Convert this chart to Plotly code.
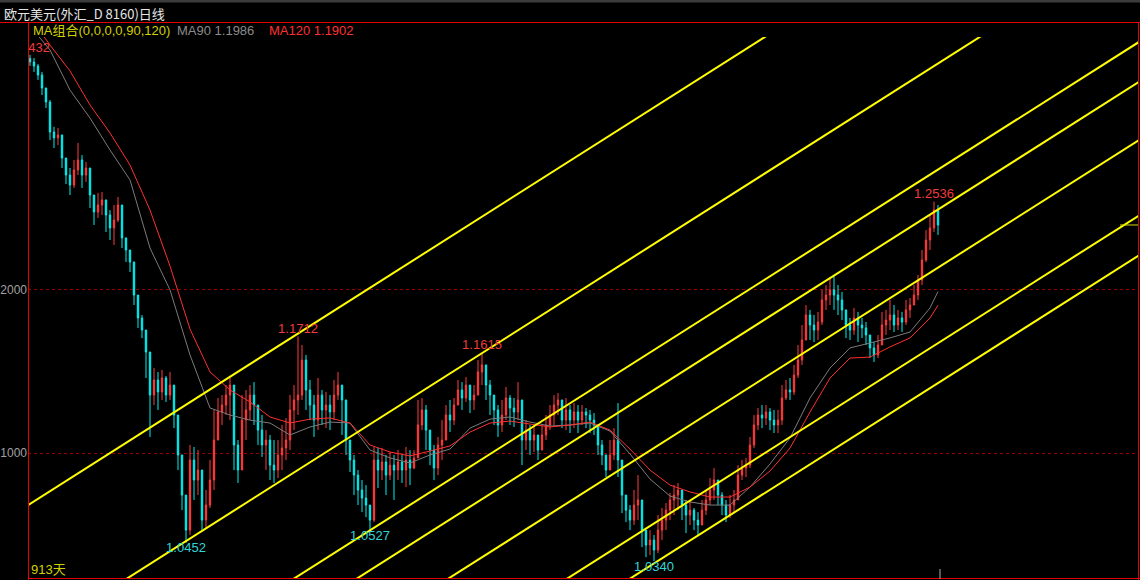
import plotly.graph_objects as go

# ---------------- data (EUR/USD daily) ----------------
first_open = 1.3410

closes = [
    1.3389, 1.3364, 1.3309, 1.3230, 1.3144, 1.2961, 1.2925, 1.2943, 1.2802, 1.2698,
    1.2637, 1.2729, 1.2790, 1.2698, 1.2741, 1.2576, 1.2472, 1.2515, 1.2546, 1.2454,
    1.2375, 1.2423, 1.2515, 1.2314, 1.2240, 1.2167, 1.1965, 1.1825, 1.1751, 1.1617,
    1.1354, 1.1446, 1.1373, 1.1458, 1.1354, 1.1415, 1.1232, 1.0988, 1.0743, 1.0529,
    1.0957, 1.0835, 1.0896, 1.0590, 1.0682, 1.0835, 1.1079, 1.1251, 1.1293, 1.1354,
    1.1415, 1.1049, 1.0896, 1.1201, 1.1263, 1.1354, 1.1293, 1.1140, 1.1049, 1.1079,
    1.0926, 1.0896, 1.0988, 1.1031, 1.1079, 1.1263, 1.1324, 1.1354, 1.1568, 1.1385,
    1.1293, 1.1201, 1.1354, 1.1263, 1.1293, 1.1251, 1.1354, 1.1415, 1.1324, 1.1079,
    1.0957, 1.0865, 1.0774, 1.0725, 1.0682, 1.0590, 1.0957, 1.0896, 1.0945, 1.0865,
    1.0926, 1.0896, 1.0945, 1.0896, 1.0957, 1.0908, 1.0970, 1.1171, 1.1263, 1.1140,
    1.1018, 1.0908, 1.1049, 1.1079, 1.1232, 1.1201, 1.1293, 1.1385, 1.1336, 1.1415,
    1.1324, 1.1354, 1.1495, 1.1538, 1.1415, 1.1354, 1.1263, 1.1171, 1.1232, 1.1336,
    1.1275, 1.1251, 1.1324, 1.1079, 1.1140, 1.1079, 1.1110, 1.1018, 1.1110, 1.1171,
    1.1232, 1.1293, 1.1324, 1.1201, 1.1263, 1.1201, 1.1251, 1.1201, 1.1251, 1.1232,
    1.1201, 1.1171, 1.1049, 1.0988, 1.0896, 1.0988, 1.1079, 1.0957, 1.0743, 1.0651,
    1.0590, 1.0682, 1.0713, 1.0529, 1.0438, 1.0468, 1.0407, 1.0529, 1.0590, 1.0651,
    1.0713, 1.0743, 1.0774, 1.0682, 1.0621, 1.0651, 1.0590, 1.0560, 1.0651, 1.0713,
    1.0774, 1.0835, 1.0743, 1.0682, 1.0621, 1.0682, 1.0713, 1.0865, 1.0908, 1.0926,
    1.1049, 1.1171, 1.1232, 1.1214, 1.1251, 1.1201, 1.1171, 1.1201, 1.1336, 1.1385,
    1.1373, 1.1476, 1.1568, 1.1690, 1.1843, 1.1782, 1.1751, 1.1800, 1.1935, 1.1965,
    1.1996, 1.1965, 1.1935, 1.1874, 1.1782, 1.1751, 1.1825, 1.1782, 1.1764, 1.1721,
    1.1642, 1.1599, 1.1660, 1.1782, 1.1812, 1.1843, 1.1782, 1.1825, 1.1800, 1.1874,
    1.1904, 1.1965, 1.2057, 1.2179, 1.2301, 1.2375, 1.2484, 1.2393,
]

highs = [
    1.3432, 1.3413, 1.3377, 1.3328, 1.3205, 1.3156, 1.2992, 1.2986, 1.2912, 1.2790,
    1.2741, 1.2790, 1.2894, 1.2820, 1.2778, 1.2668, 1.2558, 1.2589, 1.2595, 1.2546,
    1.2484, 1.2515, 1.2564, 1.2393, 1.2314, 1.2240, 1.2130, 1.1904, 1.1843, 1.1751,
    1.1568, 1.1520, 1.1495, 1.1507, 1.1470, 1.1495, 1.1354, 1.1201, 1.0957, 1.0743,
    1.1049, 1.1037, 1.1018, 1.0896, 1.0774, 1.0957, 1.1263, 1.1336, 1.1354, 1.1415,
    1.1458, 1.1263, 1.1079, 1.1354, 1.1385, 1.1415, 1.1433, 1.1293, 1.1232, 1.1140,
    1.1110, 1.1079, 1.1079, 1.1171, 1.1213, 1.1354, 1.1415, 1.1712, 1.1660, 1.1599,
    1.1446, 1.1354, 1.1458, 1.1385, 1.1373, 1.1354, 1.1446, 1.1495, 1.1415, 1.1263,
    1.1079, 1.0988, 1.0896, 1.0835, 1.0804, 1.0682, 1.1037, 1.1031, 1.1031, 1.0988,
    1.1006, 1.0988, 1.1018, 1.0988, 1.1037, 1.1018, 1.1018, 1.1324, 1.1336, 1.1293,
    1.1110, 1.1049, 1.1098, 1.1201, 1.1293, 1.1324, 1.1336, 1.1446, 1.1433, 1.1464,
    1.1385, 1.1415, 1.1568, 1.1615, 1.1507, 1.1446, 1.1354, 1.1293, 1.1324, 1.1403,
    1.1354, 1.1336, 1.1433, 1.1232, 1.1201, 1.1171, 1.1171, 1.1110, 1.1171, 1.1232,
    1.1293, 1.1354, 1.1366, 1.1293, 1.1336, 1.1293, 1.1305, 1.1293, 1.1293, 1.1275,
    1.1263, 1.1244, 1.1171, 1.1079, 1.0988, 1.1079, 1.1152, 1.1305, 1.0896, 1.0743,
    1.0682, 1.0774, 1.0865, 1.0682, 1.0529, 1.0529, 1.0499, 1.0621, 1.0664, 1.0694,
    1.0756, 1.0804, 1.0817, 1.0774, 1.0713, 1.0713, 1.0664, 1.0639, 1.0713, 1.0774,
    1.0847, 1.0908, 1.0835, 1.0761, 1.0713, 1.0743, 1.0774, 1.0926, 1.0957, 1.0970,
    1.1098, 1.1232, 1.1275, 1.1293, 1.1293, 1.1275, 1.1263, 1.1263, 1.1415, 1.1446,
    1.1458, 1.1538, 1.1660, 1.1782, 1.1904, 1.1874, 1.1843, 1.1862, 1.1996, 1.2026,
    1.2069, 1.2087, 1.2026, 1.1984, 1.1862, 1.1825, 1.1886, 1.1862, 1.1825, 1.1800,
    1.1690, 1.1678, 1.1721, 1.1862, 1.1874, 1.1935, 1.1904, 1.1874, 1.1862, 1.1935,
    1.1947, 1.2026, 1.2087, 1.2240, 1.2362, 1.2454, 1.2536, 1.2515,
]

lows = [
    1.3364, 1.3328, 1.3279, 1.3187, 1.3107, 1.2912, 1.2863, 1.2881, 1.2741, 1.2643,
    1.2576, 1.2619, 1.2698, 1.2619, 1.2656, 1.2497, 1.2393, 1.2436, 1.2454, 1.2350,
    1.2301, 1.2271, 1.2411, 1.2252, 1.2167, 1.2106, 1.1904, 1.1764, 1.1702, 1.1458,
    1.1098, 1.1293, 1.1263, 1.1324, 1.1312, 1.1324, 1.1152, 1.0896, 1.0651, 1.0452,
    1.0499, 1.0713, 1.0743, 1.0529, 1.0541, 1.0664, 1.0774, 1.1140, 1.1171, 1.1232,
    1.1201, 1.0896, 1.0817, 1.0896, 1.1079, 1.1201, 1.1171, 1.1049, 1.0976, 1.0896,
    1.0835, 1.0817, 1.0847, 1.0896, 1.0957, 1.1018, 1.1140, 1.1232, 1.1324, 1.1263,
    1.1201, 1.1098, 1.1140, 1.1171, 1.1152, 1.1140, 1.1201, 1.1324, 1.1110, 1.0988,
    1.0884, 1.0743, 1.0682, 1.0639, 1.0608, 1.0527, 1.0578, 1.0786, 1.0835, 1.0743,
    1.0835, 1.0713, 1.0835, 1.0817, 1.0792, 1.0804, 1.0902, 1.1049, 1.1140, 1.1018,
    1.0926, 1.0835, 1.0865, 1.0957, 1.1079, 1.1128, 1.1171, 1.1293, 1.1263, 1.1312,
    1.1244, 1.1263, 1.1354, 1.1415, 1.1324, 1.1232, 1.1171, 1.1098, 1.1128, 1.1201,
    1.1171, 1.1159, 1.1201, 1.0926, 1.1018, 1.0988, 1.1006, 1.0957, 1.1031, 1.1079,
    1.1140, 1.1171, 1.1232, 1.1152, 1.1140, 1.1122, 1.1152, 1.1122, 1.1171, 1.1152,
    1.1122, 1.1110, 1.0988, 1.0926, 1.0853, 1.0896, 1.0957, 1.0853, 1.0633, 1.0578,
    1.0529, 1.0560, 1.0590, 1.0425, 1.0364, 1.0376, 1.0340, 1.0389, 1.0468, 1.0529,
    1.0590, 1.0621, 1.0651, 1.0590, 1.0511, 1.0560, 1.0529, 1.0499, 1.0560, 1.0621,
    1.0682, 1.0713, 1.0682, 1.0621, 1.0578, 1.0603, 1.0639, 1.0713, 1.0835, 1.0853,
    1.0908, 1.1031, 1.1140, 1.1152, 1.1171, 1.1140, 1.1122, 1.1122, 1.1171, 1.1324,
    1.1324, 1.1354, 1.1458, 1.1538, 1.1721, 1.1690, 1.1678, 1.1690, 1.1782, 1.1874,
    1.1904, 1.1874, 1.1843, 1.1812, 1.1702, 1.1690, 1.1721, 1.1678, 1.1702, 1.1660,
    1.1580, 1.1556, 1.1580, 1.1678, 1.1721, 1.1751, 1.1739, 1.1751, 1.1739, 1.1782,
    1.1825, 1.1904, 1.1935, 1.2026, 1.2167, 1.2240, 1.2350, 1.2332,
]

# moving averages, read at every 5th bar (bar index)
ma_idx = [0, 5, 10, 15, 20, 25, 30, 35, 40, 45, 50, 55, 60, 65, 70, 75, 80, 85, 90, 95,
          100, 105, 110, 115, 120, 125, 130, 135, 140, 145, 150, 155, 160, 165, 170,
          175, 180, 185, 190, 195, 200, 205, 210, 215, 220, 225, 227]
ma90 = [1.3608, 1.3462, 1.3217, 1.3046, 1.2851, 1.2668, 1.2252, 1.1996, 1.1599, 1.1275,
        1.1232, 1.1201, 1.1183, 1.1110, 1.1159, 1.1189, 1.1183, 1.1018, 1.0970, 1.0939,
        1.0988, 1.1024, 1.1152, 1.1207, 1.1220, 1.1189, 1.1165, 1.1171, 1.1183, 1.1134,
        1.0994, 1.0841, 1.0737, 1.0701, 1.0682, 1.0682, 1.0792, 1.0933, 1.1092, 1.1336,
        1.1519, 1.1642, 1.1672, 1.1703, 1.1739, 1.1886, 1.1986]
ma120 = [1.3663, 1.3492, 1.3334, 1.3126, 1.2955, 1.2759, 1.2484, 1.2142, 1.1757, 1.1495,
         1.1385, 1.1312, 1.1220, 1.1183, 1.1207, 1.1214, 1.1183, 1.1049, 1.1006, 1.0982,
         1.1012, 1.1043, 1.1128, 1.1183, 1.1195, 1.1177, 1.1159, 1.1171, 1.1189, 1.1140,
         1.1024, 1.0896, 1.0804, 1.0762, 1.0731, 1.0731, 1.0792, 1.0890, 1.1030, 1.1250,
         1.1458, 1.1580, 1.1586, 1.1648, 1.1703, 1.1825, 1.1902]

# parallel channel lines: price at the left and right edge of the chart
channel_x = [-0.5, 277.25]
channel_start = [1.0682, 0.9849, 0.9201, 0.8957, 0.8602, 0.8141, 0.7897]
channel_end = [1.4993, 1.4159, 1.3511, 1.3267, 1.2912, 1.2451, 1.2207]

# y-axis gridlines and their (left-truncated) labels as they appear on screen
grid_prices = [1.1, 1.2]
grid_labels = ['1000', '2000']

high_marks = [0, 67, 113, 226]
low_marks = [39, 85, 156]
day_count = 913

# ---------------- geometry helpers (positions only) ----------------
L, R, T, B = 28, 1139, 37, 579
def price_at(py):
    return 1.2 + (289.3 - py) / 1637.0
def idx_at(px):
    return (px - 30) / 4.0
def pxp(x):
    return (x - L) / (R - L)
def pyp(y):
    return (B - y) / (B - T)

N = len(closes)
xs = list(range(N))
opens = [first_open] + closes[:-1]
hi = [max(h, o, c) for h, o, c in zip(highs, opens, closes)]
lo = [min(l, o, c) for l, o, c in zip(lows, opens, closes)]

UP = '#ff3c3c'
DN = '#00f0f0'
RED = '#e80000'
YEL = '#ffff00'
NUMFONT = 'Liberation Sans, Noto Sans CJK SC'

fig = go.Figure()
fig.add_trace(go.Candlestick(
    x=xs, open=opens, high=hi, low=lo, close=closes,
    increasing=dict(line=dict(color=UP, width=1), fillcolor=UP),
    decreasing=dict(line=dict(color=DN, width=1), fillcolor=DN),
    whiskerwidth=0, hoverinfo='skip'))
fig.add_trace(go.Scatter(x=ma_idx, y=ma90, mode='lines',
                         line=dict(color='#7c7c7c', width=1), hoverinfo='skip'))
fig.add_trace(go.Scatter(x=ma_idx, y=ma120, mode='lines',
                         line=dict(color='#ff3030', width=1), hoverinfo='skip'))
for s, e in zip(channel_start, channel_end):
    fig.add_trace(go.Scatter(x=channel_x, y=[s, e], mode='lines',
                             line=dict(color=YEL, width=2), hoverinfo='skip'))

fig.add_trace(go.Scatter(
    x=high_marks, y=[hi[i] for i in high_marks], mode='text',
    text=[f"{hi[i]:.4f}" for i in high_marks], textposition='top center',
    textfont=dict(color='#f03c3c', size=13, family=NUMFONT), hoverinfo='skip'))
fig.add_trace(go.Scatter(
    x=low_marks, y=[lo[i] for i in low_marks], mode='text',
    text=[f"{lo[i]:.4f}" for i in low_marks], textposition='bottom center',
    textfont=dict(color='#30d8d8', size=13, family=NUMFONT), hoverinfo='skip'))

shapes = [
    dict(type='rect', xref='paper', yref='paper', x0=pxp(0), x1=pxp(1140),
         y0=pyp(0), y1=pyp(2.5), fillcolor='#3c3c3c', line=dict(width=0)),
    dict(type='line', xref='paper', yref='paper', x0=pxp(0), x1=pxp(1140),
         y0=pyp(22.5), y1=pyp(22.5), line=dict(color=RED, width=1)),
    dict(type='line', xref='paper', yref='paper', x0=pxp(28.5), x1=pxp(28.5),
         y0=pyp(22), y1=pyp(580), line=dict(color=RED, width=1)),
    dict(type='line', xref='paper', yref='paper', x0=pxp(28), x1=pxp(1140),
         y0=pyp(578.5), y1=pyp(578.5), line=dict(color=RED, width=1)),
    dict(type='line', xref='paper', yref='paper', x0=pxp(1138.5), x1=pxp(1138.5),
         y0=pyp(22), y1=pyp(580), line=dict(color=RED, width=1)),
    dict(type='line', xref='paper', yref='y', x0=pxp(1120), x1=pxp(1138),
         y0=closes[-1], y1=closes[-1], line=dict(color='#d8d800', width=1)),
    dict(type='line', xref='x', yref='paper', x0=N - 0.5, x1=N - 0.5,
         y0=0, y1=pyp(569), line=dict(color='#b0b0b0', width=1)),
]

ann = [
    dict(text='欧元美元(外汇_D 8160)日线', x=pxp(2), y=pyp(13.5),
         font=dict(color='#e6e6e6', size=13, family='Noto Sans CJK SC')),
    dict(text='MA组合(0,0,0,0,90,120)', x=pxp(31), y=pyp(31),
         font=dict(color='#d2d200', size=13, family=NUMFONT)),
    dict(text=f'MA90 {ma90[-1]:.4f}', x=pxp(175), y=pyp(31),
         font=dict(color='#8c8c8c', size=13, family=NUMFONT)),
    dict(text=f'MA120 {ma120[-1]:.4f}', x=pxp(267), y=pyp(31),
         font=dict(color='#ff3030', size=13, family=NUMFONT)),
    dict(text=f'{day_count}天', x=pxp(29), y=pyp(569),
         font=dict(color='#d2d200', size=13, family=NUMFONT)),
]
for a in ann:
    a.update(xref='paper', yref='paper', xanchor='left', yanchor='middle', showarrow=False)

fig.update_layout(
    width=1140, height=580,
    margin=dict(l=L, r=1140 - R, t=T, b=580 - B),
    paper_bgcolor='black', plot_bgcolor='black',
    showlegend=False,
    boxgap=0.5,
    xaxis=dict(range=[idx_at(L), idx_at(R)], visible=False,
               rangeslider=dict(visible=False), fixedrange=True),
    yaxis=dict(range=[price_at(B), price_at(T)],
               tickvals=grid_prices, ticktext=grid_labels,
               showgrid=True, gridcolor='#9a0000', griddash='dot', gridwidth=1,
               zeroline=False, showline=False, ticks='', ticklen=0,
               tickfont=dict(color='#a0a0a0', size=12, family=NUMFONT),
               automargin=False, fixedrange=True),
    shapes=shapes,
    annotations=ann,
)

fig.write_html('out.html', config={'displayModeBar': False, 'staticPlot': True},
               post_script="document.body.style.margin='0';document.body.style.background='black';")
